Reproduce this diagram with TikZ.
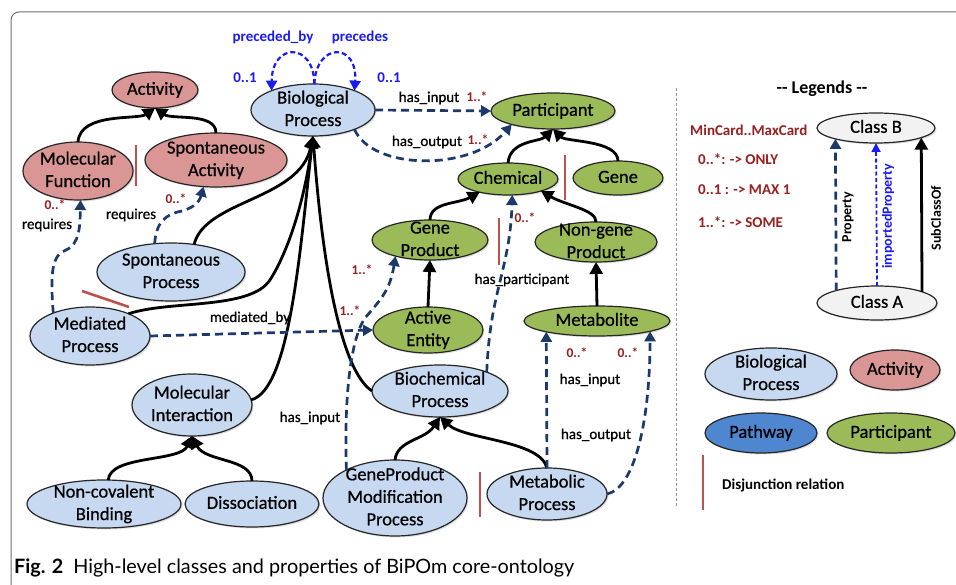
\documentclass[tikz,border=0pt]{standalone}
\usepackage{fontspec}
\setmainfont{Carlito}
\newfontfamily\nodefont{Carlito}[FakeBold=0.7]
\newfontfamily\capfont{Lato}
\usetikzlibrary{shapes.geometric,arrows.meta,shadows}
\definecolor{bpblue}{HTML}{C6D9F1}
\definecolor{actred}{HTML}{D99694}
\definecolor{pgreen}{HTML}{9BBB59}
\definecolor{clgray}{HTML}{F2F2F2}
\definecolor{pathblue}{HTML}{4F86D0}
\definecolor{propblue}{HTML}{1B3A6B}
\definecolor{impblue}{HTML}{1A1AF5}
\definecolor{cardred}{HTML}{9A1F1F}
\definecolor{barred}{HTML}{C0504D}
\definecolor{framegray}{HTML}{707070}
\newcommand\tx[1]{\makebox[0pt]{\smash{\raisebox{-.25em}{\begin{tabular}{@{}c@{}}#1\end{tabular}}}}}
\tikzset{
  cls/.style={ellipse, draw=black!85, line width=1.2pt, inner sep=0pt, outer sep=0pt,
    font=\nodefont\fontsize{18.5}{22.5}\selectfont,
    drop shadow={shadow xshift=1.5pt, shadow yshift=-1.5pt, opacity=0.25}},
  bpn/.style={cls, fill=bpblue},
  actn/.style={cls, fill=actred},
  parn/.style={cls, fill=pgreen},
  sub/.style={draw=black, line width=2.8pt, -{Triangle[length=12pt,width=13pt]}},
  prop/.style={draw=propblue, line width=2.7pt, dash pattern=on 8pt off 5pt, -{Triangle[length=10pt,width=11pt]}},
  pre/.style={draw=impblue, line width=2.2pt, dash pattern=on 5pt off 3pt, -{Triangle[length=10pt,width=11pt]}},
  imp/.style={draw=impblue, line width=1.8pt, dash pattern=on 4pt off 2.5pt, -{Triangle[length=9pt,width=9pt]}},
  lab/.style={font=\nodefont\fontsize{15}{17}\selectfont, inner sep=1pt},
  card/.style={font=\bfseries\fontsize{13.5}{15}\selectfont, text=cardred, inner sep=0pt},
  blab/.style={font=\bfseries\fontsize{15}{17}\selectfont, text=impblue, inner sep=0pt},
  legt/.style={font=\bfseries\fontsize{15}{17}\selectfont, inner sep=0pt, anchor=west},
  bar/.style={draw=barred, line width=2.6pt},
}
\begin{document}
\begin{tikzpicture}[x=1pt,y=-1pt]
\useasboundingbox (0,0) rectangle (956,585);
\fill[white] (0,0) rectangle (956,585);
% frame
\draw[framegray, line width=1pt, rounded corners=8pt] (11,585) -- (11,12) -- (960,12);
\draw[framegray!70, line width=1pt, dash pattern=on 3pt off 2pt] (676,88) -- (676,508);

% nodes
\node[actn, minimum width=86pt, minimum height=36pt] (act) at (155,90) {\tx{Activity}};
\node[bpn, minimum width=124pt, minimum height=52pt] (bio) at (313,110) {\tx{Biological\\Process}};
\node[parn, minimum width=124pt, minimum height=36pt] (part) at (553,111) {\tx{Participant}};
\node[actn, minimum width=110pt, minimum height=58pt] (mf) at (78,171) {\tx{Molecular\\Function}};
\node[actn, minimum width=142pt, minimum height=54pt] (sa) at (216,160) {\tx{Spontaneous\\Activity}};
\node[bpn, minimum width=148pt, minimum height=58pt] (sp) at (171,272) {\tx{Spontaneous\\Process}};
\node[bpn, minimum width=120pt, minimum height=58pt] (mp) at (90,336) {\tx{Mediated\\Process}};
\node[bpn, minimum width=120pt, minimum height=62pt] (mi) at (192,405) {\tx{Molecular\\Interaction}};
\node[bpn, minimum width=154pt, minimum height=48pt] (ncb) at (104,504) {\tx{Non-covalent\\Binding}};
\node[bpn, minimum width=134pt, minimum height=46pt] (diss) at (252,504) {\tx{Dissociation}};
\node[bpn, minimum width=144pt, minimum height=76pt] (gpmp) at (395,498) {\tx{GeneProduct\\Modification\\Process}};
\node[bpn, minimum width=120pt, minimum height=52pt] (metp) at (547,494) {\tx{Metabolic\\Process}};
\node[bpn, minimum width=136pt, minimum height=52pt] (bcp) at (440,391) {\tx{Biochemical\\Process}};
\node[parn, minimum width=110pt, minimum height=46pt] (ae) at (428,330) {\tx{Active\\Entity}};
\node[parn, minimum width=116pt, minimum height=40pt] (gp) at (430,240) {\tx{Gene\\Product}};
\node[parn, minimum width=100pt, minimum height=32pt] (chem) at (508,179) {\tx{Chemical}};
\node[parn, minimum width=90pt, minimum height=34pt] (gene) at (618,178) {\tx{Gene}};
\node[parn, minimum width=122pt, minimum height=40pt] (ngp) at (596,242) {\tx{Non-gene\\Product}};
\node[parn, minimum width=146pt, minimum height=30pt] (metab) at (597,321) {\tx{Metabolite}};

% legend nodes
\node[cls, fill=clgray, minimum width=118pt, minimum height=30pt] (clB) at (876,128) {\tx{Class B}};
\node[cls, fill=clgray, minimum width=120pt, minimum height=34pt] (clA) at (877,303) {\tx{Class A}};
\node[bpn, minimum width=132pt, minimum height=52pt] (lbp) at (771,374) {\tx{Biological\\Process}};
\node[actn, minimum width=90pt, minimum height=40pt] (lact) at (895,370) {\tx{Activity}};
\node[cls, fill=pathblue, minimum width=112pt, minimum height=40pt] (lpath) at (761,433) {\tx{Pathway}};
\node[parn, minimum width=128pt, minimum height=40pt] (lpart) at (891,433) {\tx{Participant}};

% disjunction bars
\draw[bar] (136,145) -- (136,186);
\draw[bar] (82,291) -- (129,307);
\draw[bar] (499,218) -- (499,265);
\draw[bar] (565,155) -- (565,200);
\draw[bar] (480,472) -- (480,517);
\draw[bar] (703,455) -- (703,510);

% subclass arrows
\draw[sub] (mf.north) .. controls (80,112) and (138,120) .. (act.south);
\draw[sub] (sa.north) .. controls (216,112) and (172,120) .. (act.south);
\draw[sub] (chem.north) .. controls (510,140) and (540,142) .. (part.south);
\draw[sub] (gene.north) .. controls (618,140) and (566,142) .. (part.south);
\draw[sub] (gp.north) .. controls (430,202) and (458,204) .. (chem.205);
\draw[sub] (ngp.north) .. controls (597,210) and (565,205) .. (chem.340);
\draw[sub] (ae.north) -- (gp.south);
\draw[sub] (metab.north) -- (ngp.south);
\draw[sub] (sp.50) .. controls (205,200) and (300,200) .. (bio.south);
\draw[sub] (mp.30) .. controls (170,300) and (250,310) .. (270,280) .. controls (292,245) and (306,190) .. (bio.south);
\draw[sub] (mi.5) .. controls (290,390) and (300,250) .. (bio.south);
\draw[sub] (bcp.west) .. controls (340,370) and (322,260) .. (bio.south);
\draw[sub] (ncb.80) .. controls (110,455) and (180,462) .. (mi.south);
\draw[sub] (diss.north) .. controls (252,458) and (205,462) .. (mi.south);
\draw[sub] (gpmp.north) .. controls (397,440) and (425,440) .. (bcp.south);
\draw[sub] (metp.north) .. controls (540,440) and (465,440) .. (bcp.south);

% property arrows
\draw[prop] (bio.east) -- (part.west);
\draw[prop] (bio.335) .. controls (372,170) and (470,172) .. (part.198);
\draw[prop] (mp.east) -- (ae.west);
\draw[prop] (mp.148) .. controls (50,272) and (52,255) .. (66,250) .. controls (80,244) and (80,225) .. (mf.275);
\draw[prop] (sp.120) .. controls (156,222) and (166,214) .. (182,211) .. controls (196,207) and (200,200) .. (sa.245);
\draw[prop] (gpmp.150) .. controls (344,400) and (350,340) .. (365,318) .. controls (382,298) and (390,290) .. (gp.205);
\draw[prop] (bcp.22) .. controls (490,290) and (510,270) .. (chem.285);
\draw[prop] (metp.north) -- (metab.192);
\draw[prop] (metp.east) .. controls (635,488) and (650,420) .. (metab.349);
\draw[pre] (bio.87) .. controls (314,42) and (272,42) .. (bio.155);
\draw[pre] (bio.87) .. controls (316,42) and (358,42) .. (bio.25);

% labels
\node[blab] (lpb) at (273,37) {preceded\_by};
\node[blab] (lpr) at (360,37) {precedes};
\node[blab] (c01a) at (245,78) {0..1};
\node[blab] (c01b) at (389,78) {0..1};
\node[lab] (lhi) at (429,98) {has\_input};
\node[card] (chi) at (477,97) {1..*};
\node[lab] (lho) at (427,142) {has\_output};
\node[card] (cho) at (478,140) {1..*};
\node[lab] (lrq1) at (47,225) {requires};
\node[card] (crq1) at (55,205) {0..*};
\node[lab] (lrq2) at (131,215) {requires};
\node[card] (crq2) at (176,199) {0..*};
\node[lab] (lmb) at (250,318) {mediated\_by};
\node[card] (cmb) at (350,311) {1..*};
\node[lab] (lgi) at (310,418) {has\_input};
\node[card] (cgi) at (362,270) {1..*};
\node[lab] (lhp) at (522,280) {has\_participant};
\node[card] (chp) at (525,218) {0..*};
\node[lab] (lmi) at (590,380) {has\_input};
\node[lab] (lmo) at (596,435) {has\_output};
\node[card] (cmi) at (577,353) {0..*};
\node[card] (cmo) at (628,353) {0..*};

% legend
\node[font=\bfseries\fontsize{18}{20}\selectfont, inner sep=0pt] (legt) at (822,89) {-{}- Legends -{}-};
\node[legt, text=cardred] (mm) at (690,130) {MinCard..MaxCard};
\node[legt, text=cardred] (m1) at (698,159) {0..*: -> ONLY};
\node[legt, text=cardred] (m2) at (698,190) {0..1 : -> MAX 1};
\node[legt, text=cardred] (m3) at (698,222) {1..*: -> SOME};
\draw[prop] (clA.163) -- (clB.195);
\draw[imp] (clA.north) -- (clB.south);
\draw[sub] (clA.14) -- (clB.348);
\node[rotate=90, font=\bfseries\fontsize{14}{16}\selectfont, inner sep=0pt] (lprop) at (848,217) {Property};
\node[rotate=90, font=\bfseries\fontsize{14}{16}\selectfont, text=impblue, inner sep=0pt] (limp) at (888,216) {importedProperty};
\node[rotate=90, font=\bfseries\fontsize{14}{16}\selectfont, inner sep=0pt] (lsub) at (936,218) {SubClassOf};
\node[legt] (ldis) at (722,485) {Disjunction relation};

% caption
\node[anchor=base west, inner sep=0pt, font=\capfont\fontsize{19.8}{22}\selectfont] (cap) at (14,573) {\textbf{Fig. 2}\enspace High-level classes and properties of BiPOm core-ontology};
\end{tikzpicture}
\end{document}
